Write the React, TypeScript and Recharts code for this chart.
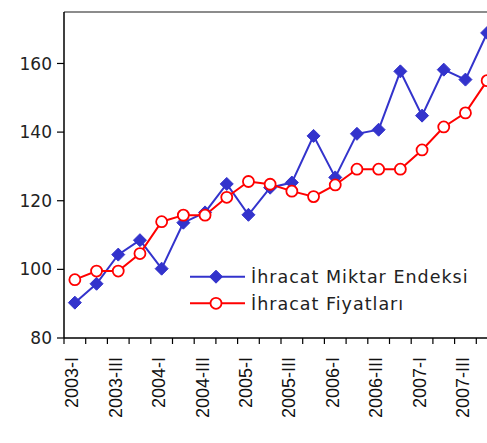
import React from 'react';
import { LineChart, Line, XAxis, YAxis, ReferenceLine } from 'recharts';

const categories = [
  '2003-I', '2003-II', '2003-III', '2003-IV',
  '2004-I', '2004-II', '2004-III', '2004-IV',
  '2005-I', '2005-II', '2005-III', '2005-IV',
  '2006-I', '2006-II', '2006-III', '2006-IV',
  '2007-I', '2007-II', '2007-III', '2007-IV',
];
const miktarEndeksi = [90.3, 95.8, 104.3, 108.5, 100.2, 113.6, 116.6, 124.9, 115.9, 123.8, 125.3, 138.9, 126.8, 139.5, 140.7, 157.7, 144.8, 158.2, 155.3, 168.9];
const fiyatlar = [97.0, 99.5, 99.5, 104.6, 113.9, 115.8, 115.8, 121.0, 125.6, 124.8, 122.8, 121.2, 124.6, 129.2, 129.2, 129.2, 134.8, 141.5, 145.6, 155.0];
const yTicks = [80, 100, 120, 140, 160];
const seriesNames = ['İhracat Miktar Endeksi', 'İhracat Fiyatları'];

const data = categories.map((q, i) => ({ q, miktar: miktarEndeksi[i], fiyat: fiyatlar[i] }));

const BLUE = '#3333CC';
const RED = '#FF0000';
const LABEL_FONT = '"DejaVu Sans", Lato, sans-serif';
const BAND = 434 / categories.length;

const Diamond = (props: any) => {
  const { cx, cy } = props;
  if (cx == null || cy == null) return null;
  const s = 6.5;
  return <polygon points={`${cx},${cy - s} ${cx + s},${cy} ${cx},${cy + s} ${cx - s},${cy}`} fill={BLUE} stroke={BLUE} strokeWidth={1} />;
};

const XTick = (props: any) => {
  const { x, y, payload, index } = props;
  const i = payload?.index ?? index;
  const left = x - BAND / 2;
  const right = x + BAND / 2;
  return (
    <g>
      <line x1={left} y1={y} x2={left} y2={y + 6} stroke="#000" strokeWidth={1.2} />
      {i === categories.length - 1 && <line x1={right} y1={y} x2={right} y2={y + 6} stroke="#000" strokeWidth={1.2} />}
      {i % 2 === 0 && (
        <text
          x={x + 3.5}
          y={y + 19}
          transform={`rotate(-90, ${x + 3.5}, ${y + 19})`}
          textAnchor="end"
          fontSize={18}
          fontFamily='"Liberation Sans", Arial, sans-serif'
          fill="#111"
        >
          {payload.value}
        </text>
      )}
    </g>
  );
};

export default function App() {
  return (
    <div style={{ position: 'absolute', left: 0, top: 0, width: 487, height: 443, overflow: 'hidden', background: '#fff' }}>
      <LineChart width={510} height={443} data={data} margin={{ top: 12, right: 12, bottom: 5, left: 8 }}>
        <XAxis
          dataKey="q"
          scale="band"
          interval={0}
          tickLine={false}
          tickSize={0}
          tickMargin={0}
          height={100}
          axisLine={{ stroke: '#000', strokeWidth: 1.5 }}
          tick={<XTick />}
        />
        <YAxis
          width={56}
          domain={[80, 175]}
          ticks={yTicks}
          allowDataOverflow
          tickSize={7}
          tickMargin={5}
          axisLine={{ stroke: '#000', strokeWidth: 1.5 }}
          tickLine={{ stroke: '#000', strokeWidth: 1.2 }}
          tick={{ fill: '#222', fontSize: 17, fontFamily: LABEL_FONT }}
        />
        <ReferenceLine y={175} stroke="#8c8c8c" strokeWidth={2} />
        <Line dataKey="miktar" name={seriesNames[0]} stroke={BLUE} strokeWidth={2} dot={<Diamond />} isAnimationActive={false} />
        <Line dataKey="fiyat" name={seriesNames[1]} stroke={RED} strokeWidth={2} dot={{ r: 5.5, fill: '#fff', stroke: RED, strokeWidth: 1.8 }} isAnimationActive={false} />
      </LineChart>
      <svg style={{ position: 'absolute', left: 185, top: 262 }} width={300} height={60}>
        <line x1={5} y1={14.7} x2={60} y2={14.7} stroke={BLUE} strokeWidth={2} />
        <Diamond cx={31} cy={14.7} />
        <text x={66} y={14.7} dy="0.36em" fontSize={17.5} letterSpacing={1} fontFamily={LABEL_FONT} fill="#222">{seriesNames[0]}</text>
        <line x1={5} y1={41.3} x2={60} y2={41.3} stroke={RED} strokeWidth={2} />
        <circle cx={31} cy={41.3} r={5.5} fill="#fff" stroke={RED} strokeWidth={1.8} />
        <text x={66} y={41.3} dy="0.36em" fontSize={17.5} letterSpacing={1} fontFamily={LABEL_FONT} fill="#222">{seriesNames[1]}</text>
      </svg>
    </div>
  );
}
